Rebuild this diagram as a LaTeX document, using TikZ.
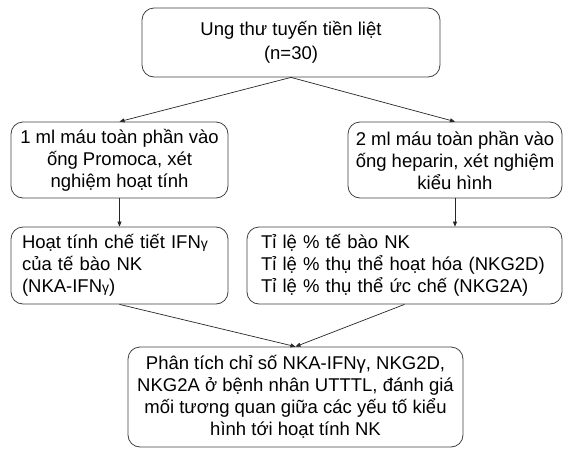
\documentclass[tikz,border=0pt]{standalone}
\usepackage{fontspec}
\setmainfont{Liberation Sans}
\usetikzlibrary{arrows.meta}

\begin{document}
\begin{tikzpicture}[x=1pt, y=-1pt,
    box/.style={draw=black!75, line width=0.8pt, rounded corners=12pt, inner sep=0pt,
        font=\fontsize{18.5}{22}\selectfont},
    arr/.style={-{Triangle[length=5pt, width=4pt]}, line width=0.7pt, black!85}]
    \useasboundingbox (0,0) rectangle (563,448);
    % top
    \node[box, minimum width=298pt, minimum height=69pt, align=center,
        font=\fontsize{18.5}{24}\selectfont] (cancer) at (291,42.5)
        {Ung thư tuyến tiền liệt\\(n=30)};
    % samples
    \node[box, minimum width=217pt, minimum height=76pt, align=center] (promoca) at (119.5,160)
        {1 ml máu toàn phần vào\\ống Promoca, xét\\nghiệm hoạt tính};
    \node[box, minimum width=214pt, minimum height=76pt, align=center] (heparin) at (455,160)
        {2 ml máu toàn phần vào\\ống heparin, xét nghiệm\\kiểu hình};
    % measures
    \node[box, text width=195pt, inner xsep=11pt, minimum height=77pt, align=left] (activity) at (119.5,265.5)
        {Hoạt tính chế tiết IFN{\fontsize{14}{14}\selectfont γ}\\của tế bào NK\\(NKA-IFN{\fontsize{14}{14}\selectfont γ})};
    \node[box, text width=287pt, inner xsep=14pt, minimum height=77pt, align=left] (phenotype) at (404.5,265.5)
        {Tỉ lệ \% tế bào NK\\Tỉ lệ \% thụ thể hoạt hóa (NKG2D)\\Tỉ lệ \% thụ thể ức chế (NKG2A)};
    % analysis
    \node[box, minimum width=335pt, minimum height=100pt, align=center] (analysis) at (295.5,397)
        {Phân tích chỉ số NKA-IFNγ, NKG2D,\\NKG2A ở bệnh nhân UTTTL, đánh giá\\mối tương quan giữa các yếu tố kiểu\\hình tới hoạt tính NK};

    \draw[arr] (cancer.south) -- (promoca.north);
    \draw[arr] (cancer.south) -- (heparin.north);
    \draw[arr] (promoca.south) -- (activity.north);
    \draw[arr] (heparin.south) -- (heparin.south |- phenotype.north);
    \draw[arr] (activity.south) -- (analysis.north);
    \draw[arr] (phenotype.south) -- (analysis.north);
\end{tikzpicture}
\end{document}
